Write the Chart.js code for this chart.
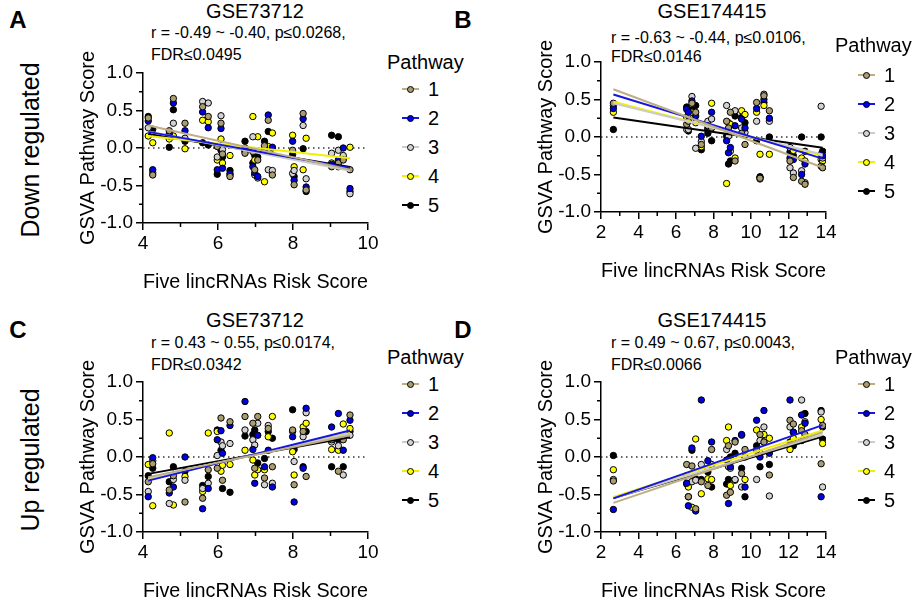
<!DOCTYPE html>
<html>
<head>
<meta charset="utf-8">
<script src="https://cdn.jsdelivr.net/npm/chart.js@4.4.1/dist/chart.umd.min.js"></script>
<style>
  body { margin: 0; width: 914px; height: 598px; background: #fff; position: relative; overflow: hidden;
         font-family: "Liberation Sans", Arial, sans-serif; color: #000; }
  canvas { position: absolute; }
  .t { position: absolute; white-space: nowrap; line-height: 1; }
  .mid { transform: translate(-50%, -50%); }
  .lft { transform: translateY(-50%); }
  .letter { font-weight: bold; font-size: 24px; }
  .row { font-size: 25px; transform: translate(-50%, -50%) rotate(-90deg); }
  .title { font-size: 20px; }
  .stat { font-size: 16px; }
  .leg-title { font-size: 20px; }
  .leg-item { position: absolute; height: 20px; transform: translateY(-50%); }
  .leg-line { position: absolute; left: 0; top: 9px; width: 17px; height: 2px; }
  .leg-dot { position: absolute; left: 5px; top: 7px; width: 5px; height: 5px; border: 1px solid #000; border-radius: 50%; }
  .leg-num { position: absolute; left: 26px; top: 0; font-size: 20px; line-height: 20px; }
</style>
</head>
<body>

<div class="t mid letter" style="left:18px; top:20px;">A</div>
<div class="t mid letter" style="left:463px; top:20px;">B</div>
<div class="t mid letter" style="left:18px; top:330px;">C</div>
<div class="t mid letter" style="left:463px; top:330px;">D</div>

<div class="t row" style="left:30px; top:150px;">Down regulated</div>
<div class="t row" style="left:30px; top:460px;">Up regulated</div>

<div class="t mid title" style="left:255px; top:11px;">GSE73712</div>
<div class="t lft stat" style="left:151px; top:33px;">r = -0.49 ~ -0.40, p≤0.0268,</div>
<div class="t lft stat" style="left:151px; top:55px;">FDR≤0.0495</div>

<div class="t mid title" style="left:712px; top:11px;">GSE174415</div>
<div class="t lft stat" style="left:611px; top:38px;">r = -0.63 ~ -0.44, p≤0.0106,</div>
<div class="t lft stat" style="left:611px; top:57px;">FDR≤0.0146</div>

<div class="t mid title" style="left:255px; top:320px;">GSE73712</div>
<div class="t lft stat" style="left:151px; top:343px;">r = 0.43 ~ 0.55, p≤0.0174,</div>
<div class="t lft stat" style="left:151px; top:365px;">FDR≤0.0342</div>

<div class="t mid title" style="left:712px; top:320px;">GSE174415</div>
<div class="t lft stat" style="left:611px; top:343px;">r = 0.49 ~ 0.67, p≤0.0043,</div>
<div class="t lft stat" style="left:611px; top:365px;">FDR≤0.0066</div>

<canvas id="chartA"></canvas>
<canvas id="chartB"></canvas>
<canvas id="chartC"></canvas>
<canvas id="chartD"></canvas>

<script>
// pathway names and colours
const pathways = ['1', '2', '3', '4', '5'];
const pointColors = ['#a99c70', '#0000e0', '#d2d2d2', '#ffff00', '#000000'];
const lineColors = ['#bdae84', '#1616e0', '#cccccc', '#f0f000', '#000000'];

// risk scores of the samples
const riskGSE73712 = [4.14, 4.26, 4.70, 4.81, 5.12, 5.59, 5.74, 5.98, 6.08, 6.12, 6.32, 6.72, 6.93,
                      6.98, 7.06, 7.24, 7.34, 7.45, 7.99, 8.03, 8.27, 8.35, 9.03, 9.21, 9.34, 9.52];
const riskGSE174415 = [2.66, 6.57, 6.66, 6.85, 7.05, 7.35, 7.70, 7.90, 8.70, 8.80, 8.90, 9.15,
                       9.50, 9.68, 10.30, 10.48, 10.69, 10.98, 12.08, 12.26, 12.70, 12.88, 13.74, 13.82];

// GSVA scores, one array per pathway (1..5)
const downGSE73712 = [
  [0.40, -0.36, 0.23, 0.66, 0.33, 0.55, 0.42, 0.02, 0.33, -0.08, -0.38, -0.07, -0.05,
   -0.29, -0.16, 0.03, 0.37, -0.36, -0.03, -0.49, 0.46, -0.56, -0.25, -0.20, -0.16, -0.29],
  [0.36, -0.29, 0.19, 0.60, 0.23, 0.48, 0.27, -0.29, 0.26, -0.27, -0.34, -0.03, -0.25,
   -0.33, -0.38, 0.00, 0.44, 0.01, 0.09, -0.43, 0.39, -0.52, -0.22, -0.16, 0.00, -0.54],
  [0.27, -0.33, 0.16, 0.33, 0.13, 0.62, 0.60, -0.12, 0.43, -0.02, -0.36, -0.05, 0.15,
   -0.36, -0.40, -0.03, -0.29, -0.30, -0.34, -0.30, 0.30, -0.41, -0.07, -0.03, -0.10, -0.61],
  [0.16, 0.07, 0.12, 0.16, -0.01, 0.37, 0.35, -0.16, 0.12, -0.20, -0.10, 0.00, 0.42,
   -0.16, 0.15, -0.45, 0.02, 0.20, 0.17, -0.25, -0.29, 0.13, -0.20, -0.25, -0.12, 0.01],
  [0.42, 0.25, 0.01, 0.51, 0.09, 0.07, 0.04, -0.35, -0.03, -0.12, -0.30, 0.09, -0.20,
   -0.10, -0.12, 0.09, 0.22, 0.00, -0.09, -0.38, -0.01, -0.58, 0.17, 0.15, -0.14, -0.58]
];
const downGSE174415 = [
  [0.45, 0.17, 0.21, 0.45, 0.33, -0.10, 0.15, 0.12, 0.21, 0.12, 0.33, -0.32,
   0.05, -0.10, 0.46, -0.55, 0.55, 0.35, -0.32, -0.54, -0.59, -0.63, -0.39, -0.41],
  [0.38, 0.37, 0.33, 0.48, 0.28, 0.01, 0.10, 0.33, -0.05, -0.21, -0.14, 0.15,
   0.24, 0.12, 0.38, -0.54, 0.50, 0.25, -0.28, -0.30, -0.50, -0.36, -0.23, -0.25],
  [0.42, 0.10, 0.10, 0.54, -0.15, -0.06, 0.21, 0.24, 0.42, 0.01, -0.19, 0.35,
   0.12, 0.06, 0.21, -0.56, 0.57, 0.21, -0.41, -0.48, -0.45, -0.61, 0.41, -0.28],
  [0.33, 0.26, 0.30, 0.33, 0.19, -0.13, 0.12, 0.45, -0.62, 0.19, 0.17, -0.28,
   0.35, 0.30, 0.33, -0.23, 0.42, -0.23, -0.14, -0.18, -0.28, -0.32, -0.30, -0.32],
  [0.10, 0.40, 0.08, 0.36, 0.42, -0.17, 0.05, -0.05, 0.01, -0.36, -0.32, 0.28,
   0.26, 0.19, -0.05, -0.53, 0.46, 0.00, -0.20, -0.25, 0.00, -0.19, 0.00, -0.19]
];
const upGSE73712 = [
  [-0.33, -0.09, -0.44, -0.25, -0.60, -0.55, -0.17, -0.15, 0.52, -0.31, 0.47, 0.54, 0.45,
   -0.15, 0.54, -0.28, 0.38, -0.13, 0.36, -0.37, 0.34, -0.26, 0.23, -0.19, 0.23, 0.56],
  [-0.53, -0.01, -0.48, -0.40, 0.00, -0.69, -0.42, 0.23, 0.35, 0.05, 0.42, 0.74, 0.10,
   -0.35, 0.29, -0.13, 0.09, -0.40, 0.27, -0.60, -0.15, 0.65, 0.40, 0.58, 0.09, 0.49],
  [-0.46, -0.05, -0.62, -0.30, -0.31, -0.42, -0.35, 0.02, 0.20, 0.15, 0.18, 0.36, 0.23,
   0.16, 0.45, -0.37, 0.42, -0.35, 0.34, -0.06, 0.27, 0.59, 0.20, 0.15, -0.24, 0.29],
  [-0.10, -0.65, 0.32, -0.64, -0.26, -0.46, 0.32, 0.34, -0.19, -0.11, -0.10, 0.09, -0.04,
   -0.24, -0.17, -0.17, 0.27, 0.54, 0.07, -0.24, 0.40, 0.45, 0.10, 0.09, 0.44, 0.38],
  [-0.25, -0.15, -0.33, -0.13, -0.19, -0.38, -0.26, 0.36, 0.09, -0.42, -0.47, 0.28, 0.30,
   0.36, -0.08, -0.02, 0.34, 0.25, 0.63, 0.10, -0.13, 0.34, -0.13, 0.23, -0.13, 0.34]
];
const upGSE174415 = [
  [-0.32, -0.10, -0.53, -0.12, -0.69, -0.33, -0.38, 0.10, -0.51, 0.15, -0.47, 0.20,
   -0.22, 0.10, 0.09, 0.30, 0.20, -0.24, 0.49, 0.44, 0.35, 0.30, -0.09, 0.42],
  [-0.70, -0.35, -0.65, 0.12, -0.72, 0.76, -0.05, 0.20, -0.04, -0.62, -0.13, 0.22,
   0.30, -0.40, 0.49, 0.00, 0.62, 0.05, 0.76, 0.33, 0.56, 0.45, -0.53, 0.40],
  [-0.30, -0.25, -0.30, -0.33, -0.31, -0.10, -0.15, -0.10, 0.10, -0.13, -0.15, -0.30,
   -0.40, 0.00, -0.30, 0.22, 0.40, -0.52, 0.40, 0.33, 0.76, 0.47, 0.60, -0.40],
  [-0.17, -0.27, -0.40, -0.67, 0.24, -0.49, -0.29, -0.30, 0.22, 0.40, -0.38, -0.31,
   0.29, -0.30, 0.36, 0.05, 0.30, 0.25, 0.10, 0.25, 0.40, 0.25, 0.50, 0.18],
  [0.02, -0.36, -0.53, 0.09, -0.29, -0.30, -0.20, -0.40, -0.36, -0.30, 0.00, 0.05,
   -0.15, -0.53, 0.15, -0.13, 0.20, -0.10, 0.20, 0.15, 0.22, 0.58, 0.62, 0.24]
];

const yTicks = [-1, -0.5, 0, 0.5, 1];

function fitLine(xs, ys) {
    const n = xs.length;
    const mx = xs.reduce((a, b) => a + b, 0) / n;
    const my = ys.reduce((a, b) => a + b, 0) / n;
    let sxy = 0, sxx = 0;
    for (let i = 0; i < n; i++) {
        sxy += (xs[i] - mx) * (ys[i] - my);
        sxx += (xs[i] - mx) * (xs[i] - mx);
    }
    const slope = sxy / sxx;
    const x0 = Math.min(...xs), x1 = Math.max(...xs);
    return [{x: x0, y: my + slope * (x0 - mx)}, {x: x1, y: my + slope * (x1 - mx)}];
}

// short ticks halfway between the labelled ones
const minorTicks = {
    id: 'minorTicks',
    afterDraw(chart) {
        const {ctx, chartArea, scales} = chart;
        const x = scales.x, y = scales.y;
        const xStep = chart.options.scales.x.ticks.stepSize;
        const yStep = chart.options.scales.y.ticks.stepSize;
        ctx.save();
        ctx.strokeStyle = '#000';
        ctx.lineWidth = 1.5;
        ctx.beginPath();
        for (let v = x.min + xStep / 2; v < x.max; v += xStep) {
            const px = x.getPixelForValue(v);
            ctx.moveTo(px, chartArea.bottom);
            ctx.lineTo(px, chartArea.bottom + 4);
        }
        for (let v = y.min + yStep / 2; v < y.max; v += yStep) {
            const py = y.getPixelForValue(v);
            ctx.moveTo(chartArea.left, py);
            ctx.lineTo(chartArea.left - 4, py);
        }
        ctx.stroke();
        ctx.restore();
    }
};

function renderPanel(id, area, risk, series, xMin, xMax, legend) {
    const yAxisW = 83, xAxisH = 72, padTop = 40, padRight = 15;
    const canvas = document.getElementById(id);
    const left = area.left - yAxisW;
    const top = area.top - padTop;
    canvas.width = area.right + padRight - left;
    canvas.height = area.bottom + xAxisH - top;
    canvas.style.left = left + 'px';
    canvas.style.top = top + 'px';

    const datasets = [];
    series.forEach((ys, i) => {
        datasets.push({
            type: 'line',
            label: 'fit ' + pathways[i],
            data: fitLine(risk, ys),
            showLine: true,
            borderColor: lineColors[i],
            borderWidth: 2,
            pointRadius: 0,
            order: 0
        });
    });
    series.forEach((ys, i) => {
        datasets.push({
            type: 'scatter',
            label: pathways[i],
            data: risk.map((x, k) => ({x: x, y: ys[k]})),
            backgroundColor: pointColors[i],
            borderColor: '#000',
            borderWidth: 1,
            pointRadius: 3.2,
            order: 1
        });
    });
    datasets.push({
        type: 'line',
        label: 'zero',
        data: [{x: xMin, y: 0}, {x: xMax, y: 0}],
        showLine: true,
        borderColor: '#333',
        borderWidth: 1.5,
        borderDash: [1.5, 3.5],
        pointRadius: 0,
        order: 2
    });

    const font = {family: '"Liberation Sans", Arial, sans-serif'};
    new Chart(canvas.getContext('2d'), {
        type: 'scatter',
        data: {datasets: datasets},
        options: {
            responsive: false,
            animation: false,
            layout: {padding: {left: 0, top: padTop, right: padRight, bottom: 0}},
            plugins: {legend: {display: false}, tooltip: {enabled: false}},
            scales: {
                x: {
                    type: 'linear', min: xMin, max: xMax,
                    ticks: {stepSize: 2, color: '#000', padding: 2, font: {...font, size: 19},
                            callback: v => String(v)},
                    grid: {display: true, drawOnChartArea: false, drawTicks: true, tickLength: 7,
                           color: '#000', lineWidth: 1.5},
                    border: {display: true, color: '#000', width: 1.5},
                    title: {display: true, text: 'Five lincRNAs Risk Score', color: '#000',
                            font: {...font, size: 20}, padding: {top: 0, bottom: 1}},
                    afterFit: s => { s.height = xAxisH; }
                },
                y: {
                    type: 'linear', min: -1, max: 1,
                    afterBuildTicks: s => { s.ticks = yTicks.map(v => ({value: v})); },
                    ticks: {stepSize: 0.5, color: '#000', padding: 3, font: {...font, size: 19},
                            callback: v => v.toFixed(1)},
                    grid: {display: true, drawOnChartArea: false, drawTicks: true, tickLength: 7,
                           color: '#000', lineWidth: 1.5},
                    border: {display: true, color: '#000', width: 1.5},
                    title: {display: true, text: 'GSVA Pathway Score', color: '#000',
                            font: {...font, size: 20}, padding: {top: 16, bottom: 0}},
                    afterFit: s => { s.width = yAxisW; }
                }
            }
        },
        plugins: [minorTicks]
    });

    // legend on the right of the panel
    const t = document.createElement('div');
    t.className = 't lft leg-title';
    t.style.left = legend.titleX + 'px';
    t.style.top = legend.titleY + 'px';
    t.textContent = 'Pathway';
    document.body.appendChild(t);
    pathways.forEach((p, i) => {
        const item = document.createElement('div');
        item.className = 'leg-item';
        item.style.left = legend.itemX + 'px';
        item.style.top = (legend.itemY + i * 29) + 'px';
        item.innerHTML = '<div class="leg-line" style="background:' + lineColors[i] + '"></div>' +
                         '<div class="leg-dot" style="background:' + pointColors[i] + '"></div>' +
                         '<div class="leg-num">' + p + '</div>';
        document.body.appendChild(item);
    });
}

renderPanel('chartA', {left: 143, top: 73, right: 368, bottom: 223}, riskGSE73712, downGSE73712, 4, 10,
            {titleX: 387, titleY: 62, itemX: 402, itemY: 89});
renderPanel('chartB', {left: 601, top: 62, right: 826, bottom: 212}, riskGSE174415, downGSE174415, 2, 14,
            {titleX: 835, titleY: 45, itemX: 858, itemY: 75});
renderPanel('chartC', {left: 143, top: 382, right: 368, bottom: 532}, riskGSE73712, upGSE73712, 4, 10,
            {titleX: 387, titleY: 357, itemX: 402, itemY: 384});
renderPanel('chartD', {left: 601, top: 382, right: 826, bottom: 532}, riskGSE174415, upGSE174415, 2, 14,
            {titleX: 835, titleY: 357, itemX: 858, itemY: 384});
</script>
</body>
</html>
